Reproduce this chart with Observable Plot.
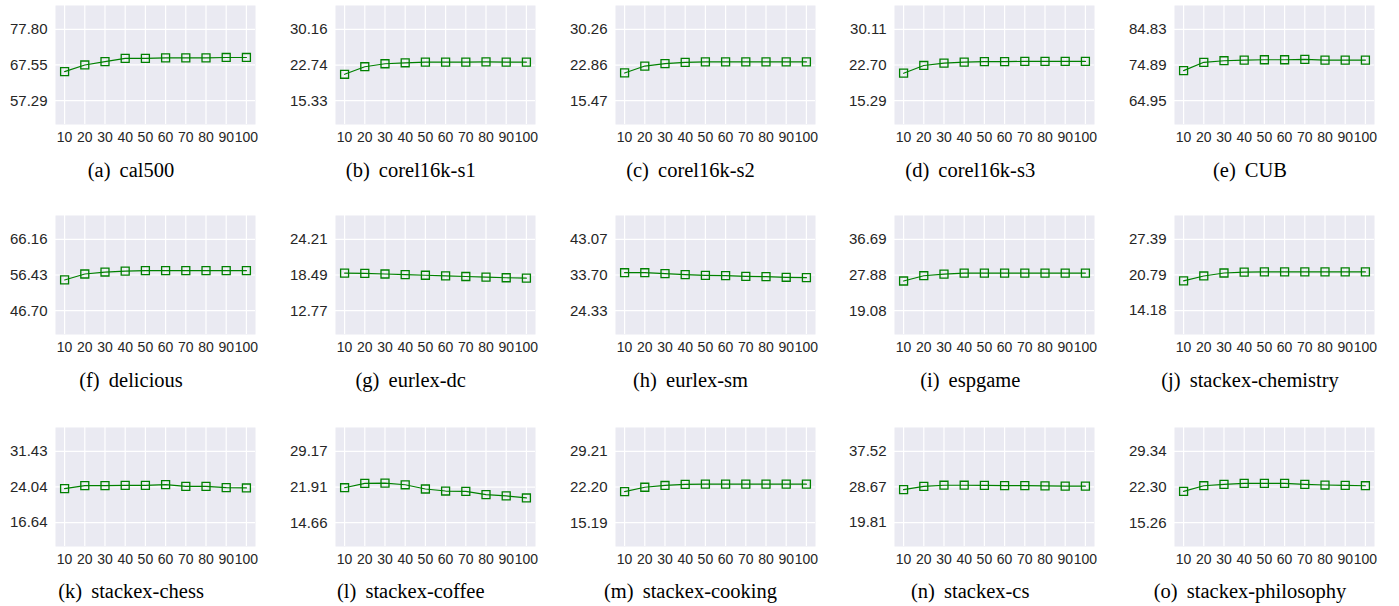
<!DOCTYPE html>
<html><head><meta charset="utf-8">
<script src="https://cdn.jsdelivr.net/npm/d3@7"></script>
<script src="https://cdn.jsdelivr.net/npm/@observablehq/plot@0.6"></script>
<style>
html,body{margin:0;padding:0;background:#fff;}
#root{position:relative;width:1399px;height:606px;overflow:hidden;}
.cell{position:absolute;}
#captions{position:absolute;left:0;top:0;pointer-events:none;}
</style></head><body><div id="root"></div>
<script>
// ---- data ----
const xValues = [10, 20, 30, 40, 50, 60, 70, 80, 90, 100];
const panelLetters = ["a","b","c","d","e","f","g","h","i","j","k","l","m","n","o"];
const datasetNames = ["cal500","corel16k-s1","corel16k-s2","corel16k-s3","CUB",
  "delicious","eurlex-dc","eurlex-sm","espgame","stackex-chemistry",
  "stackex-chess","stackex-coffee","stackex-cooking","stackex-cs","stackex-philosophy"];

const cal500 = [65.64, 67.55, 68.49, 69.46, 69.46, 69.60, 69.60, 69.60, 69.70, 69.70];
const corel16kS1 = [20.82, 22.39, 23.01, 23.21, 23.36, 23.36, 23.36, 23.40, 23.36, 23.36];
const corel16kS2 = [21.22, 22.65, 23.17, 23.40, 23.50, 23.50, 23.50, 23.50, 23.50, 23.50];
const corel16kS3 = [21.00, 22.60, 23.10, 23.30, 23.40, 23.40, 23.45, 23.45, 23.45, 23.45];
const cub = [73.32, 75.64, 76.08, 76.27, 76.35, 76.35, 76.46, 76.27, 76.27, 76.27];
const delicious = [55.08, 56.70, 57.24, 57.51, 57.60, 57.60, 57.60, 57.60, 57.60, 57.60];
const eurlexDc = [18.80, 18.75, 18.65, 18.55, 18.45, 18.35, 18.25, 18.15, 18.05, 18.00];
const eurlexSm = [34.30, 34.30, 34.04, 33.78, 33.62, 33.52, 33.36, 33.26, 33.10, 33.00];
const espgame = [26.41, 27.71, 28.12, 28.37, 28.37, 28.37, 28.37, 28.37, 28.37, 28.37];
const chemistry = [19.70, 20.60, 21.15, 21.30, 21.35, 21.35, 21.35, 21.35, 21.35, 21.35];
const chess = [23.69, 24.31, 24.31, 24.37, 24.37, 24.51, 24.16, 24.16, 23.90, 23.83];
const coffee = [21.77, 22.66, 22.72, 22.37, 21.51, 21.10, 21.04, 20.36, 20.10, 19.69];
const cooking = [21.30, 22.15, 22.50, 22.70, 22.75, 22.75, 22.75, 22.75, 22.75, 22.75];
const cs = [28.00, 28.80, 29.10, 29.10, 29.05, 29.00, 29.00, 28.95, 28.90, 28.90];
const philosophy = [21.44, 22.55, 22.81, 23.00, 23.00, 23.00, 22.81, 22.69, 22.61, 22.55];

const cal500Ticks = [57.29, 67.55, 77.80];
const corel16kS1Ticks = [15.33, 22.74, 30.16];
const corel16kS2Ticks = [15.47, 22.86, 30.26];
const corel16kS3Ticks = [15.29, 22.70, 30.11];
const cubTicks = [64.95, 74.89, 84.83];
const deliciousTicks = [46.70, 56.43, 66.16];
const eurlexDcTicks = [12.77, 18.49, 24.21];
const eurlexSmTicks = [24.33, 33.70, 43.07];
const espgameTicks = [19.08, 27.88, 36.69];
const chemistryTicks = [14.18, 20.79, 27.39];
const chessTicks = [16.64, 24.04, 31.43];
const coffeeTicks = [14.66, 21.91, 29.17];
const cookingTicks = [15.19, 22.20, 29.21];
const csTicks = [19.81, 28.67, 37.52];
const philosophyTicks = [15.26, 22.30, 29.34];

const seriesList = [cal500, corel16kS1, corel16kS2, corel16kS3, cub, delicious, eurlexDc, eurlexSm,
  espgame, chemistry, chess, coffee, cooking, cs, philosophy];
const tickList = [cal500Ticks, corel16kS1Ticks, corel16kS2Ticks, corel16kS3Ticks, cubTicks,
  deliciousTicks, eurlexDcTicks, eurlexSmTicks, espgameTicks, chemistryTicks, chessTicks,
  coffeeTicks, cookingTicks, csTicks, philosophyTicks];

// ---- layout ----
const root = document.getElementById("root");
const rowTops = [0, 210, 421.5];
const captionBaselines = [177, 386.5, 598];
const colPitch = 279.75;
const fmt = d3.format(".2f");

seriesList.forEach((values, i) => {
  const r = Math.floor(i / 5), c = i % 5;
  const ticks = tickList[i];
  const [lo, mid, hi] = ticks;
  const domain = [lo - (mid - lo) * 2 / 3, hi + (hi - mid) * 2 / 3];
  const rows = xValues.map((x, j) => ({x, y: values[j]}));
  const chart = Plot.plot({
    width: 280, height: 150,
    marginTop: 5, marginBottom: 26, marginLeft: 55, marginRight: 25,
    style: {fontFamily: "'Liberation Sans', Arial, sans-serif", fontSize: "14px", color: "#262626", background: "transparent", overflow: "visible"},
    x: {domain: [5.5, 104.5]},
    y: {domain},
    marks: [
      Plot.frame({fill: "#EAEAF2", stroke: null}),
      Plot.gridX({ticks: xValues, stroke: "#ffffff", strokeOpacity: 1, strokeWidth: 1.2}),
      Plot.gridY({ticks: ticks, stroke: "#ffffff", strokeOpacity: 1, strokeWidth: 1.2}),
      Plot.axisX({ticks: xValues, tickSize: 0, tickPadding: 8, label: null, tickFormat: d => String(d)}),
      Plot.axisY({ticks: ticks, tickSize: 0, tickPadding: 8, label: null, tickFormat: fmt, fontSize: 15}),
      Plot.line(rows, {x: "x", y: "y", stroke: "green", strokeWidth: 1.2}),
      Plot.dot(rows, {x: "x", y: "y", symbol: "square", r: 4.5, stroke: "green", fill: "none", strokeWidth: 1.3})
    ]
  });
  chart.classList.add("cell");
  chart.style.left = (c * colPitch) + "px";
  chart.style.top = rowTops[r] + "px";
  root.appendChild(chart);
});

// captions
const ns = "http://www.w3.org/2000/svg";
const capSvg = document.createElementNS(ns, "svg");
capSvg.setAttribute("id", "captions");
capSvg.setAttribute("width", 1399);
capSvg.setAttribute("height", 606);
datasetNames.forEach((name, i) => {
  const r = Math.floor(i / 5), c = i % 5;
  const t = document.createElementNS(ns, "text");
  t.setAttribute("x", c * colPitch + 131);
  t.setAttribute("y", captionBaselines[r]);
  t.setAttribute("text-anchor", "middle");
  t.style.fontFamily = "'Liberation Serif', 'DejaVu Serif', 'Times New Roman', serif";
  t.style.fontSize = "20.5px";
  t.style.wordSpacing = "4px";
  t.style.fill = "#000";
  t.textContent = "(" + panelLetters[i] + ") " + name;
  capSvg.appendChild(t);
});
root.appendChild(capSvg);
</script>
</body></html>
